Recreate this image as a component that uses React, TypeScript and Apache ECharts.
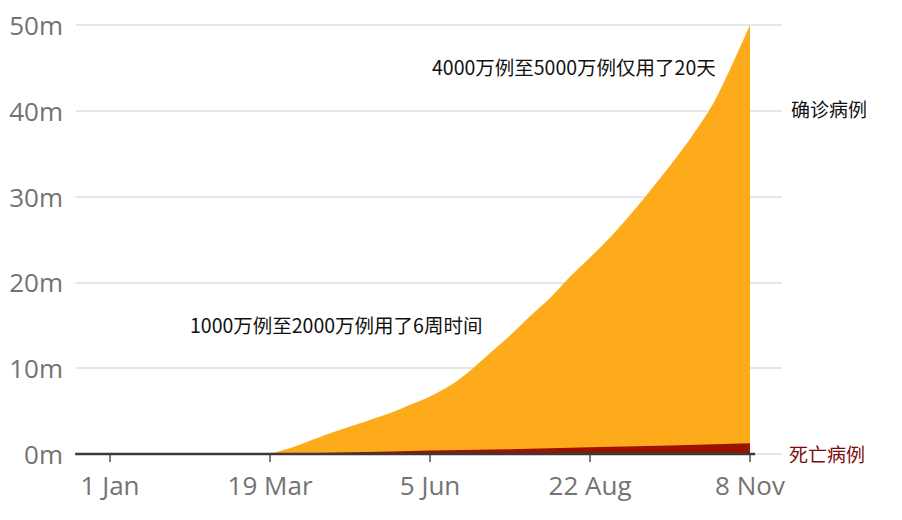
import { useEffect, useRef } from 'react'
import * as echarts from 'echarts'

// days counted from 1 Jan 2020, values in millions
const caseDays = [-17, 0, 40, 70, 78, 88, 98, 107, 117, 127, 137, 146, 156, 166, 176, 185, 195, 205, 215, 224, 234, 244, 254, 263, 273, 283, 293, 302, 312]
const casesM = [0, 0, 0.01, 0.05, 0.1, 0.7, 1.6, 2.4, 3.2, 4.0, 4.8, 5.7, 6.7, 8.0, 9.8, 11.7, 13.8, 16.1, 18.3, 20.6, 22.9, 25.3, 28.0, 30.6, 33.6, 36.8, 40.4, 44.7, 50.0]

const deathDays = [-17, 0, 70, 78, 107, 137, 156, 195, 234, 273, 312]
const deathsM = [0, 0, 0.003, 0.01, 0.15, 0.3, 0.4, 0.55, 0.8, 1.0, 1.25]

const baselineDays = [-17, 314.5]

const tickDays = [0, 78, 156, 234, 312]
const tickLabels = ['1 Jan', '19 Mar', '5 Jun', '22 Aug', '8 Nov']

const casesLabel = '确诊病例'
const deathsLabel = '死亡病例'
const noteTop = '4000万例至5000万例仅用了20天'
const noteMid = '1000万例至2000万例用了6周时间'

export default function App(): JSX.Element {
  const chartRef = useRef<HTMLDivElement>(null)

  useEffect(() => {
    if (!chartRef.current) return
    document.body.style.margin = '0'
    const chart = echarts.init(chartRef.current, null, { renderer: 'svg' })

    const cjk = '"Noto Sans CJK SC", "Noto Sans", sans-serif'
    const axisFont = '"Open Sans", sans-serif'

    const option: echarts.EChartsOption = {
      animation: false,
      backgroundColor: '#ffffff',
      grid: { left: 76, right: 120, top: 25, bottom: 66 },
      xAxis: {
        type: 'value',
        min: -16.6,
        max: 327.6,
        axisLine: { show: false },
        splitLine: { show: false },
        axisTick: {
          show: true,
          customValues: tickDays,
          length: 8,
          lineStyle: { color: '#555555', width: 1.5 }
        },
        axisLabel: {
          customValues: tickDays,
          margin: 18,
          color: '#737373',
          fontSize: 26,
          fontFamily: axisFont,
          formatter: (v: number) => {
            const i = tickDays.indexOf(Math.round(v))
            return i >= 0 ? tickLabels[i] : ''
          }
        }
      },
      yAxis: {
        type: 'value',
        min: 0,
        max: 50,
        interval: 10,
        axisLine: { show: false },
        axisTick: { show: false },
        axisLabel: {
          margin: 13,
          color: '#737373',
          fontSize: 26,
          fontFamily: axisFont,
          formatter: '{value}m'
        },
        splitLine: { lineStyle: { color: '#dedede', width: 1.5 } }
      },
      series: [
        {
          name: casesLabel,
          type: 'line',
          data: caseDays.map((d, i) => [d, casesM[i]]),
          symbol: 'none',
          smooth: 0.3,
          lineStyle: { width: 0 },
          areaStyle: { color: '#fdaa1b', opacity: 1 }
        },
        {
          name: deathsLabel,
          type: 'line',
          data: deathDays.map((d, i) => [d, deathsM[i]]),
          symbol: 'none',
          lineStyle: { width: 0 },
          areaStyle: { color: '#9a1300', opacity: 1 }
        },
        {
          name: 'baseline',
          type: 'line',
          data: baselineDays.map((d) => [d, 0]),
          symbol: 'none',
          clip: false,
          lineStyle: { color: '#3a3a3a', width: 2.5 },
          silent: true
        }
      ],
      graphic: [
        {
          type: 'text',
          left: 432,
          top: 57,
          style: { text: noteTop, fontSize: 19.5, fontFamily: cjk, fill: '#111111' }
        },
        {
          type: 'text',
          left: 190,
          top: 315,
          style: { text: noteMid, fontSize: 19.5, fontFamily: cjk, fill: '#111111' }
        },
        {
          type: 'text',
          left: 791,
          top: 99,
          style: { text: casesLabel, fontSize: 19, fontFamily: cjk, fill: '#111111' }
        },
        {
          type: 'text',
          left: 789,
          top: 444,
          style: { text: deathsLabel, fontSize: 19, fontFamily: cjk, fill: '#7b0c0c' }
        }
      ]
    }

    chart.setOption(option)
    return () => {
      chart.dispose()
    }
  }, [])

  return <div ref={chartRef} style={{ width: 902, height: 520 }} />
}
